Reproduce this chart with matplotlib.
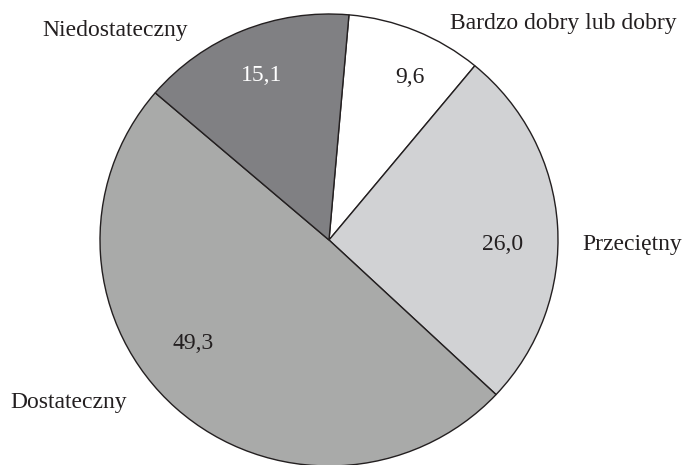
import matplotlib.pyplot as plt

# ---------------- DATA ----------------
categories = ["Bardzo dobry lub dobry", "Przeciętny", "Dostateczny", "Niedostateczny"]
values = [9.6, 26.0, 49.3, 15.1]
value_labels = ["9,6", "26,0", "49,3", "15,1"]

# ---------------- STYLE ----------------
colors = ["#ffffff", "#d1d2d4", "#a9aaa9", "#808083"]
value_colors = ["#231f20", "#231f20", "#231f20", "#ffffff"]
# label positions in pie-radius units
value_pos = [(0.354, 0.720), (0.760, -0.018), (-0.594, -0.456), (-0.294, 0.730)]
name_pos = [(1.022, 0.956), (1.323, -0.022), (-1.135, -0.717), (-0.934, 0.929)]

plt.rcParams["font.family"] = ["Liberation Serif", "DejaVu Serif"]

fig = plt.figure(figsize=(6.85, 4.65), dpi=100)
ax = fig.add_axes([100 / 685, -1 / 465, 458 / 685, 452 / 465])

ax.pie(values, colors=colors, startangle=85, counterclock=False,
       wedgeprops=dict(edgecolor="#231f20", linewidth=1.0))
ax.set_aspect("auto")
ax.set_xlim(-1, 1)
ax.set_ylim(-1, 1)
ax.axis("off")

for lab, c, (x, y) in zip(value_labels, value_colors, value_pos):
    ax.text(x, y, lab, ha="center", va="center", fontsize=17, color=c)

for name, (x, y) in zip(categories, name_pos):
    ax.text(x, y, name, ha="center", va="center", fontsize=17,
            color="#231f20", clip_on=False)

fig.savefig("out.png", dpi=100)
